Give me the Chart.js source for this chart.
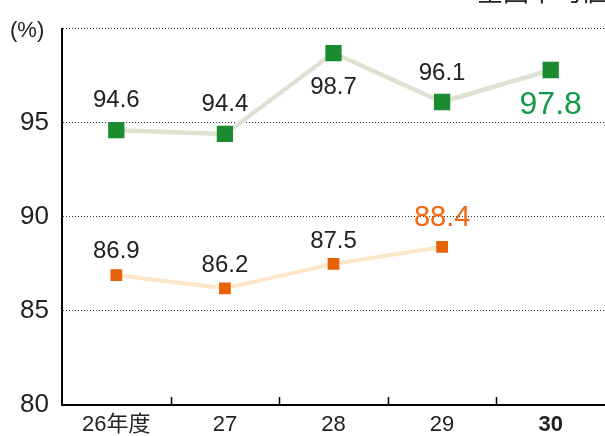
<!DOCTYPE html>
<html>
<head>
<meta charset="utf-8">
<script src="https://cdn.jsdelivr.net/npm/chart.js@4"></script>
<style>
  html, body { margin: 0; padding: 0; background: #fff; }
  #wrap { width: 605px; height: 436px; }
</style>
</head>
<body>
<div id="wrap"><canvas id="chart" width="605" height="436"></canvas></div>
<script>
const years = ["26年度", "27", "28", "29", "30"];
const national = [94.6, 94.4, 98.7, 96.1, 97.8];
const local = [86.9, 86.2, 87.5, 88.4, null];
const yTicks = [80, 85, 90, 95, 100];

const FONT = '"Liberation Sans", "Noto Sans CJK JP", sans-serif';

// where each value label sits relative to its point (px, + is down)
const labelShift = {
  0: [-30, -30, 34, -29, 35],
  1: [-24, -23, -22, -29]
};

const extras = {
  id: "extras",
  afterDraw(chart) {
    const ctx = chart.ctx;
    const x = chart.scales.x, y = chart.scales.y;
    ctx.save();

    // small ticks between categories, pointing up from the axis
    ctx.strokeStyle = "#000";
    ctx.lineWidth = 1.5;
    for (let i = 0; i < years.length - 1; i++) {
      const px = Math.round((x.getPixelForTick(i) + x.getPixelForTick(i + 1)) / 2) + 0.5;
      ctx.beginPath();
      ctx.moveTo(px, y.bottom);
      ctx.lineTo(px, y.bottom - 8);
      ctx.stroke();
    }

    // value labels
    ctx.textAlign = "center";
    ctx.textBaseline = "middle";
    chart.data.datasets.forEach((ds, di) => {
      const meta = chart.getDatasetMeta(di);
      ds.data.forEach((v, i) => {
        if (v == null) return;
        const pt = meta.data[i];
        const last = (di === 0 && i === 4) || (di === 1 && i === 3);
        if (last) {
          ctx.fillStyle = di === 0 ? "#139a48" : "#ee6a12";
          ctx.font = (di === 0 ? "32px " : "29px ") + FONT;
        } else {
          ctx.fillStyle = "#222";
          ctx.font = "24px " + FONT;
        }
        ctx.fillText(v.toFixed(1), pt.x, pt.y + labelShift[di][i]);
      });
    });

    // unit and (clipped) heading
    ctx.fillStyle = "#222";
    ctx.font = "22px " + FONT;
    ctx.textAlign = "left";
    ctx.fillText("(%)", 10, 31);
    ctx.font = "26px " + FONT;
    ctx.textAlign = "right";
    ctx.textBaseline = "bottom";
    ctx.fillText("全国平均値", 607, 7);
    ctx.restore();
  }
};

new Chart(document.getElementById("chart"), {
  type: "line",
  data: {
    labels: years,
    datasets: [
      {
        label: "全国平均値",
        data: national,
        borderColor: "#dde2d2",
        borderWidth: 4.5,
        pointStyle: "rect",
        pointRadius: 11.5,
        pointBackgroundColor: "#1a8c2f",
        pointBorderWidth: 0
      },
      {
        label: "本県",
        data: local,
        borderColor: "#fde6c9",
        borderWidth: 4,
        pointStyle: "rect",
        pointRadius: 8.3,
        pointBackgroundColor: "#e8620a",
        pointBorderWidth: 0
      }
    ]
  },
  options: {
    responsive: false,
    animation: false,
    layout: { autoPadding: false, padding: { top: 28, right: 0, left: 0, bottom: 0 } },
    plugins: { legend: { display: false }, tooltip: { enabled: false } },
    scales: {
      x: {
        offset: true,
        grid: { display: false, drawTicks: false },
        border: { color: "#000", width: 2 },
        afterFit: (s) => { s.height = 31; },
        ticks: {
          color: "#222",
          padding: 7,
          font: (c) => ({ family: FONT, size: 22, weight: c.index === 4 ? "bold" : "normal" })
        }
      },
      y: {
        min: 80,
        max: 100,
        afterBuildTicks: (s) => { s.ticks = yTicks.map((v) => ({ value: v })); },
        afterFit: (s) => { s.width = 62; },
        grid: { color: "#333", lineWidth: 1, drawTicks: false },
        border: { color: "#000", width: 2, dash: [1, 2] },
        ticks: {
          color: "#222",
          padding: 13,
          font: { family: FONT, size: 26 },
          callback: (v) => (v === 100 ? "" : v)
        }
      }
    }
  },
  plugins: [extras]
});
</script>
</body>
</html>
